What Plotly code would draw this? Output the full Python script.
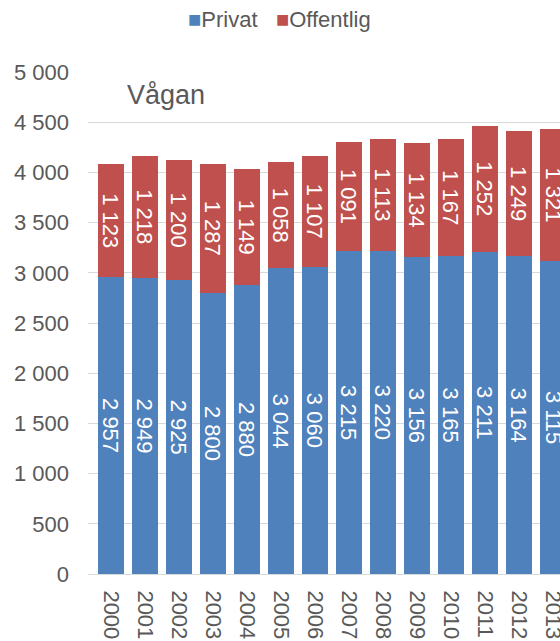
import plotly.graph_objects as go

years = ["2000", "2001", "2002", "2003", "2004", "2005", "2006",
         "2007", "2008", "2009", "2010", "2011", "2012", "2013"]
privat = [2957, 2949, 2925, 2800, 2880, 3044, 3060,
          3215, 3220, 3156, 3165, 3211, 3164, 3115]
offentlig = [1123, 1218, 1200, 1287, 1149, 1058, 1107,
             1091, 1113, 1134, 1167, 1252, 1249, 1321]

font = "Liberation Sans, Arial, sans-serif"
grey = "#595959"
blue = "#4F81BD"
red = "#C0504D"


def fmt(v):
    return f"{v:,}".replace(",", " ")


fig = go.Figure()
fig.add_trace(go.Bar(
    x=years, y=privat, name="Privat",
    marker=dict(color=blue, line=dict(width=0)),
    text=[fmt(v) for v in privat],
    textposition="inside", insidetextanchor="middle",
    textangle=90, constraintext="none",
    textfont=dict(color="white", size=22, family=font),
))
fig.add_trace(go.Bar(
    x=years, y=offentlig, name="Offentlig",
    marker=dict(color=red, line=dict(width=0)),
    text=[fmt(v) for v in offentlig],
    textposition="inside", insidetextanchor="middle",
    textangle=90, constraintext="none",
    textfont=dict(color="white", size=22, family=font),
))

# legend drawn as text so the squares sit close to the labels
fig.add_annotation(
    text=(f"<span style='color:{blue}'>■</span>Privat"
          f"&nbsp;&nbsp;&nbsp;<span style='color:{red}'>■</span>Offentlig"),
    xref="paper", yref="paper", x=0.2076, y=1.1036,
    xanchor="left", yanchor="middle", showarrow=False,
    font=dict(size=22, color=grey, family=font),
)

fig.add_annotation(
    text="Vågan", xref="paper", yref="paper", x=0.078, y=0.955,
    xanchor="left", yanchor="middle", showarrow=False,
    font=dict(size=27, color=grey, family=font),
)

fig.update_layout(
    width=560, height=641,
    barmode="stack", bargap=0.23,
    separators=", ",
    showlegend=False,
    plot_bgcolor="white", paper_bgcolor="white",
    margin=dict(l=88, r=0, t=72, b=67),
    font=dict(family=font, size=22, color=grey),
    xaxis=dict(
        type="category", range=[-0.676, 13.206],
        tickangle=90, showgrid=False, ticks="",
        showline=True, linecolor="#d9d9d9", linewidth=1,
        ticklabelstandoff=11,
        tickfont=dict(size=22, color=grey), automargin=False,
    ),
    yaxis=dict(
        range=[0, 5000], tickvals=[0, 500, 1000, 1500, 2000, 2500,
                                   3000, 3500, 4000, 4500, 5000],
        tickformat=",d", showgrid=True, gridcolor="#d9d9d9", gridwidth=1,
        zeroline=False, ticks="", ticklabelstandoff=18,
        tickfont=dict(size=22, color=grey), automargin=False,
    ),
)

# drop the browser's default page margin so the figure fills the window
fig.write_html(
    "out.html",
    config={"displayModeBar": False},
    post_script="document.body.style.margin='0';"
                "document.body.style.overflow='hidden';",
)
